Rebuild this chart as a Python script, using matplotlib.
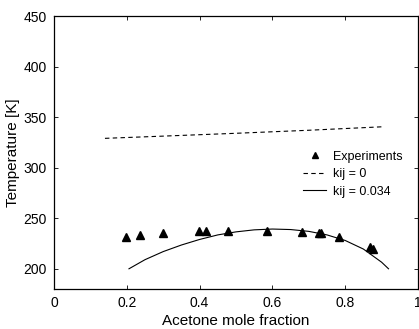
import numpy as np
import matplotlib
matplotlib.use("Agg")
import matplotlib.pyplot as plt

plt.rcParams['font.family'] = ['Liberation Sans', 'DejaVu Sans']

# experimental points
exp_x = [0.198, 0.236, 0.300, 0.398, 0.417, 0.479, 0.586, 0.681, 0.728, 0.733, 0.784, 0.867, 0.875]
exp_T = [231.3, 233.0, 235.5, 237.5, 237.5, 237.8, 237.5, 236.5, 235.3, 235.0, 231.9, 221.4, 219.8]

# kij = 0 prediction
k0_x = [0.14, 0.30, 0.50, 0.70, 0.90]
k0_T = [329.0, 331.2, 334.0, 337.0, 340.4]

# kij = 0.034 prediction
k1_x = [0.206, 0.25, 0.30, 0.35, 0.40, 0.45, 0.50, 0.55, 0.60, 0.65, 0.70, 0.75, 0.80, 0.85, 0.90, 0.919]
k1_T = [200.0, 209.0, 217.0, 223.5, 229.0, 233.5, 236.5, 238.5, 239.3, 238.8, 237.0, 233.5, 228.0, 219.5, 206.5, 200.0]

fig = plt.figure(figsize=(4.19, 3.29), dpi=100)
ax = fig.add_axes([54 / 419, 40 / 329, 364 / 419, 273 / 329])

ax.plot(exp_x, exp_T, linestyle='none', marker='^', color='black', markersize=6, label='Experiments')
ax.plot(k0_x, k0_T, color='black', linestyle=(0, (4, 3)), linewidth=0.8, label='kij = 0')
ax.plot(k1_x, k1_T, color='black', linestyle='-', linewidth=0.8, label='kij = 0.034')

ax.set_xlim(0, 1)
ax.set_ylim(180, 450)
ax.set_xticks([0, 0.2, 0.4, 0.6, 0.8, 1])
ax.set_xticklabels(['0', '0.2', '0.4', '0.6', '0.8', '1'])
ax.set_yticks([200, 250, 300, 350, 400, 450])
ax.tick_params(direction='in', top=True, right=True, labelsize=10, length=3, width=0.6, pad=5)
for s in ax.spines.values():
    s.set_linewidth(0.9)

ax.set_xlabel('Acetone mole fraction', fontsize=11, labelpad=3)
ax.set_ylabel('Temperature [K]', fontsize=11, labelpad=3)

leg = ax.legend(loc='upper left', bbox_to_anchor=(0.684, 0.507), frameon=False, fontsize=9,
                handlelength=1.85, handletextpad=0.55, labelspacing=0.45, borderaxespad=0,
                borderpad=0, markerscale=0.75)

fig.savefig('out.png', dpi=100)
